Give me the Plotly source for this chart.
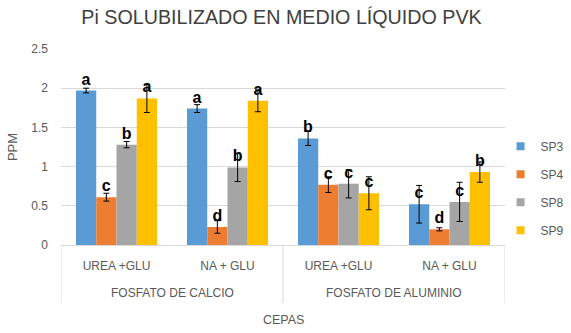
import plotly.graph_objects as go

group_labels = ["FOSFATO DE CALCIO", "FOSFATO DE ALUMINIO"]
treatments = ["UREA +GLU", "NA + GLU", "UREA +GLU", "NA + GLU"]
x_pos = [0, 1, 2, 3]
group_centers = [0.5, 2.5]
group_edges = [-0.5, 1.5, 3.5]

series_names = ["SP3", "SP4", "SP8", "SP9"]
colors = ["#5B9BD5", "#ED7D31", "#A5A5A5", "#FFC000"]

sp3 = [1.97, 1.74, 1.36, 0.52]
sp4 = [0.61, 0.23, 0.77, 0.20]
sp8 = [1.28, 0.99, 0.78, 0.55]
sp9 = [1.87, 1.84, 0.66, 0.93]

sp3_err = [0.03, 0.05, 0.09, 0.24]
sp4_err = [0.05, 0.08, 0.10, 0.02]
sp8_err = [0.04, 0.18, 0.18, 0.25]
sp9_err = [0.18, 0.14, 0.21, 0.13]

sp3_letters = ["a", "a", "b", "c"]
sp4_letters = ["c", "d", "c", "d"]
sp8_letters = ["b", "b", "c", "c"]
sp9_letters = ["a", "a", "c", "b"]

y_ticks = [0, 0.5, 1, 1.5, 2, 2.5]
y_ticktext = ["0", "0.5", "1", "1.5", "2", "2.5"]

values = [sp3, sp4, sp8, sp9]
errors = [sp3_err, sp4_err, sp8_err, sp9_err]
letters = [sp3_letters, sp4_letters, sp8_letters, sp9_letters]

GRID = "#D9D9D9"
TXT = "#595959"
FONT = "Liberation Sans, Arial"

fig = go.Figure()
for i, name in enumerate(series_names):
    fig.add_trace(go.Bar(
        x=x_pos,
        y=values[i],
        name=name,
        showlegend=False,
        marker=dict(color=colors[i], line=dict(width=0)),
        error_y=dict(type="data", array=errors[i], color="#000000", thickness=1, width=3),
        text=letters[i],
        textposition="outside",
        textfont=dict(family=FONT, size=16, color="#000000", weight="bold"),
        cliponaxis=False,
    ))
# legend entries (small square swatches)
for i, name in enumerate(series_names):
    fig.add_trace(go.Scatter(
        x=[None], y=[None], mode="markers", name=name, legendgroup=name,
        marker=dict(symbol="square", size=8, color=colors[i]),
        showlegend=True,
    ))

annotations = []
for gx, gl in zip(group_centers, group_labels):
    annotations.append(dict(x=gx, y=-0.245, xref="x", yref="paper", text=gl, showarrow=False,
                            xanchor="center", yanchor="middle", font=dict(family=FONT, size=12, color=TXT)))
annotations.append(dict(x=0.5, y=-0.383, xref="paper", yref="paper", text="CEPAS", showarrow=False,
                        xanchor="center", yanchor="middle", font=dict(family=FONT, size=12.5, color=TXT)))

shapes = []
for ex in group_edges:
    shapes.append(dict(type="line", xref="x", yref="paper", x0=ex, x1=ex, y0=0, y1=-0.296,
                       line=dict(color=GRID, width=1)))

fig.update_layout(
    width=571, height=333,
    margin=dict(l=61, r=66, t=49, b=88, autoexpand=False),
    paper_bgcolor="white", plot_bgcolor="white",
    barmode="group", bargap=0.27, bargroupgap=0,
    title=dict(text="Pi SOLUBILIZADO EN MEDIO LÍQUIDO PVK", x=0.493, xanchor="center", y=0.95, yanchor="middle",
               font=dict(family=FONT, size=19.7, color="#404040")),
    font=dict(family=FONT, size=12, color=TXT),
    legend=dict(x=0.99, xanchor="left", y=0.289, yanchor="middle", tracegroupgap=9,
                font=dict(size=12, color=TXT), itemwidth=30, bgcolor="rgba(0,0,0,0)"),
    showlegend=True,
    annotations=annotations,
    shapes=shapes,
)
fig.update_yaxes(range=[0, 2.5], tickvals=y_ticks, ticktext=y_ticktext, automargin=False,
                 showgrid=True, gridcolor=GRID, gridwidth=1, zeroline=False, showline=False,
                 ticks="", ticklabelstandoff=12,
                 title=dict(text="PPM", font=dict(size=13, color=TXT), standoff=10),
                 tickfont=dict(size=12, color=TXT))
fig.update_xaxes(range=[-0.5, 3.5], tickvals=x_pos, ticktext=treatments, automargin=False,
                 showline=True, linecolor=GRID, linewidth=1, showgrid=False, zeroline=False,
                 ticks="", ticklabelstandoff=10, tickfont=dict(size=12, color=TXT))

fig.write_html("out.html", config={"displayModeBar": False},
               post_script="document.body.style.margin='0';document.body.style.padding='0';")
